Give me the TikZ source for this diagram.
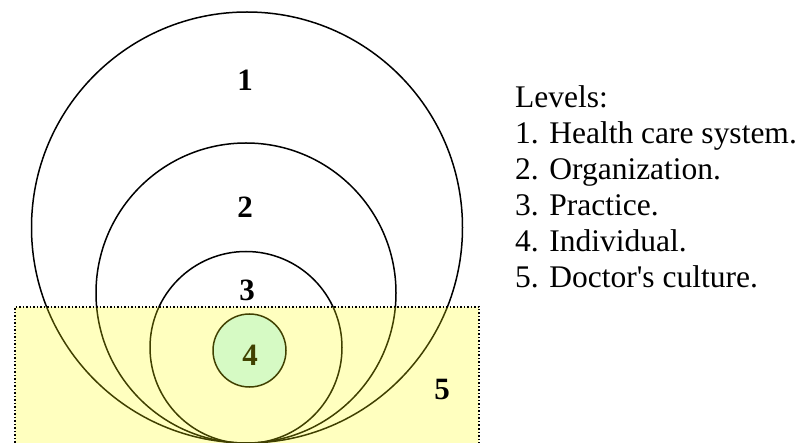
\documentclass[tikz,border=0pt]{standalone}
\usepackage{fontspec}
\setmainfont{Liberation Serif}
\definecolor{olive4}{RGB}{64,64,0}
\definecolor{mint}{RGB}{214,250,196}
\definecolor{yel}{RGB}{255,255,0}
\begin{document}
\begin{tikzpicture}[x=1pt,y=-1pt,
  ring/.style={draw=black,line width=1.5pt},
  lvl/.style={inner sep=0pt,font=\fontsize{31}{31}\selectfont\bfseries},
  legend/.style={inner sep=0pt,anchor=base west,font=\fontsize{31.5}{36}\selectfont}]
\useasboundingbox (0,0) rectangle (798,443);
% circles
\draw[ring] (247,227.5) circle[radius=215.5pt];
\draw[ring] (246,293) circle[radius=150pt];
\draw[ring] (246,347.5) circle[radius=96pt];
% labels above box
\node[lvl] (l1) at (245,80) {1};
\node[lvl] (l2) at (245,207) {2};
\node[lvl] (l3) at (247,290) {3};
% yellow box (translucent)
\fill[yel,fill opacity=0.25] (15,307) rectangle (479,450);
\draw[black,dotted,line width=1.5pt] (15,450) -- (15,307) -- (479,307) -- (479,450);
% individual circle
\draw[draw=olive4,fill=mint,line width=1.5pt] (249.5,350.5) circle[radius=36.5pt];
\node[lvl,text=olive4] (l4) at (250,355) {4};
\node[lvl] (l5) at (442,390) {5};
% legend
\node[legend] (t0) at (515,108) {Levels:};
\node[legend] (t1) at (515,144) {1. Health care system.};
\node[legend] (t2) at (515,180) {2. Organization.};
\node[legend] (t3) at (515,216) {3. Practice.};
\node[legend] (t4) at (515,252) {4. Individual.};
\node[legend] (t5) at (515,288) {5. Doctor\textquotesingle s culture.};
\end{tikzpicture}
\end{document}
